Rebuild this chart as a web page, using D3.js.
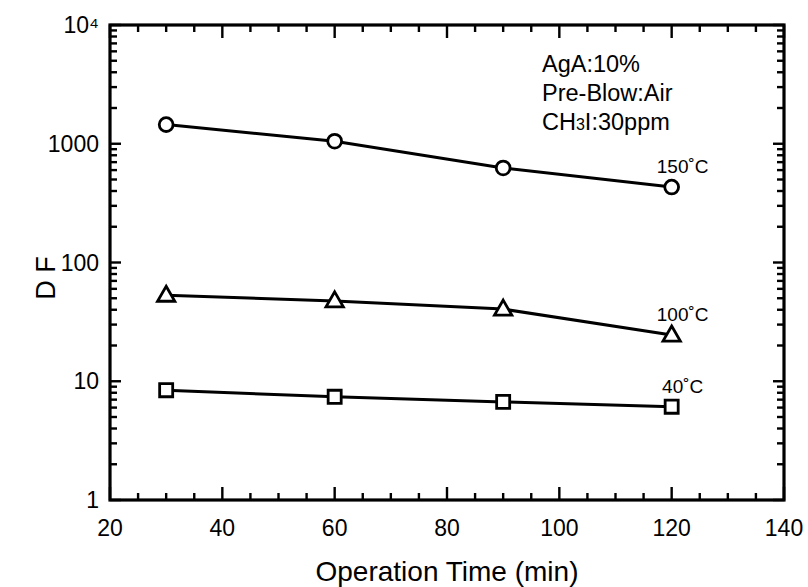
<!DOCTYPE html>
<html>
<head>
<meta charset="utf-8">
<script src="https://cdn.jsdelivr.net/npm/d3@7"></script>
<style>
  body { margin: 0; background: #fff; }
  text { font-family: "Liberation Sans", Arial, sans-serif; fill: #000; }
</style>
</head>
<body>
<div id="chart"></div>
<script>
// data
const times = [30, 60, 90, 120]
const df150 = [1450, 1050, 625, 432]
const df100 = [53, 47.5, 40.5, 24.5]
const df40 = [8.4, 7.4, 6.7, 6.1]
const seriesNames = ["150˚C", "100˚C", "40˚C"]
const seriesShapes = ["circle", "triangle", "square"]
const xTicks = [20, 40, 60, 80, 100, 120, 140]
const xMinorTicks = [25, 30, 35, 45, 50, 55, 65, 70, 75, 85, 90, 95, 105, 110, 115, 125, 130, 135]
const yTicks = [1, 10, 100, 1000, 10000]
const yTickLabels = ["1", "10", "100", "1000", "10⁴"]
const notes = ["AgA:10%", "Pre-Blow:Air", "CH3I:30ppm"]

const dims = { width: 808, height: 587 }
const pad = { top: 25, right: 24, bottom: 87, left: 110 }

const plotBottom = dims.height - pad.bottom
const plotRight = dims.width - pad.right

const series = [df150, df100, df40].map((vals, i) => ({
  name: seriesNames[i],
  shape: seriesShapes[i],
  points: times.map((t, j) => ({ t: t, v: vals[j] }))
}))

const x = d3.scaleLinear()
  .domain([20, 140])
  .range([pad.left, plotRight])

const y = d3.scaleLog()
  .domain([1, 10000])
  .range([plotBottom, pad.top])

// log minor ticks 2..9 in each decade
const yMinorTicks = y.ticks().filter(v => yTicks.indexOf(v) < 0)

const svg = d3.select('#chart')
  .append('svg')
    .attr('width', dims.width)
    .attr('height', dims.height)

// inward ticks as thin filled bars, all four sides
const xTickSet = xTicks.map(v => ({ v: v, len: 13 })).concat(xMinorTicks.map(v => ({ v: v, len: 7 })))
const yTickSet = yTicks.map(v => ({ v: v, len: 11 })).concat(yMinorTicks.map(v => ({ v: v, len: 7 })))
const tw = 2.4

const ticks = svg.append('g').attr('class', 'ticks')

ticks.selectAll('rect.xb').data(xTickSet).join('rect').attr('class', 'xb')
  .attr('x', d => x(d.v) - tw / 2).attr('y', d => plotBottom - d.len)
  .attr('width', tw).attr('height', d => d.len).attr('fill', '#000')
ticks.selectAll('rect.xt').data(xTickSet).join('rect').attr('class', 'xt')
  .attr('x', d => x(d.v) - tw / 2).attr('y', pad.top)
  .attr('width', tw).attr('height', d => d.len).attr('fill', '#000')
ticks.selectAll('rect.yl').data(yTickSet).join('rect').attr('class', 'yl')
  .attr('x', pad.left).attr('y', d => y(d.v) - tw / 2)
  .attr('width', d => d.len).attr('height', tw).attr('fill', '#000')
ticks.selectAll('rect.yr').data(yTickSet).join('rect').attr('class', 'yr')
  .attr('x', d => plotRight - d.len).attr('y', d => y(d.v) - tw / 2)
  .attr('width', d => d.len).attr('height', tw).attr('fill', '#000')

// frame
svg.append('rect')
  .attr('x', pad.left).attr('y', pad.top)
  .attr('width', plotRight - pad.left).attr('height', plotBottom - pad.top)
  .attr('fill', 'none').attr('stroke', '#000').attr('stroke-width', 3.2)

// tick labels
svg.append('g')
  .selectAll('text')
  .data(xTicks)
  .join('text')
    .attr('x', d => x(d))
    .attr('y', plotBottom + 36)
    .attr('text-anchor', 'middle')
    .attr('font-size', 23)
    .text(d => d)

svg.append('g')
  .selectAll('text')
  .data(yTicks)
  .join('text')
    .attr('x', pad.left - 11)
    .attr('y', d => y(d) + 8)
    .attr('text-anchor', 'end')
    .attr('font-size', 23)
    .text((d, i) => yTickLabels[i])

// lines
const lineGen = d3.line().x(d => x(d.t)).y(d => y(d.v))

svg.append('g')
  .selectAll('path')
  .data(series)
  .join('path')
    .attr('d', d => lineGen(d.points))
    .attr('fill', 'none')
    .attr('stroke', '#000')
    .attr('stroke-width', 3)

// markers
const symbolType = { circle: d3.symbolCircle, triangle: d3.symbolTriangle, square: d3.symbolSquare }
const symbolSize = { circle: 150, triangle: 130, square: 170 }

series.forEach(s => {
  svg.append('g')
    .selectAll('path')
    .data(s.points)
    .join('path')
      .attr('transform', d => `translate(${x(d.t)},${y(d.v) + (s.shape === 'triangle' ? 1 : 0)})`)
      .attr('d', d3.symbol().type(symbolType[s.shape]).size(symbolSize[s.shape]))
      .attr('fill', '#fff')
      .attr('stroke', '#000')
      .attr('stroke-width', 2.8)

  const last = s.points[s.points.length - 1]
  svg.append('text')
    .attr('x', x(last.t) + 11)
    .attr('y', y(last.v) - 14)
    .attr('text-anchor', 'middle')
    .attr('font-size', 19)
    .text(s.name)
})

// notes
notes.forEach((n, i) => {
  const t = svg.append('text')
    .attr('x', 542)
    .attr('y', 72 + i * 29)
    .attr('font-size', 23.5)
  if (n.startsWith('CH3I')) {
    t.append('tspan').text('CH')
    t.append('tspan').attr('font-size', 16).text('3')
    t.append('tspan').text('I:30ppm')
  } else {
    t.text(n)
  }
})

// axis titles
svg.append('text')
  .attr('x', (pad.left + plotRight) / 2)
  .attr('y', 581)
  .attr('text-anchor', 'middle')
  .attr('font-size', 28)
  .text('Operation Time (min)')

svg.append('text')
  .attr('transform', `translate(55,278) rotate(-90)`)
  .attr('text-anchor', 'middle')
  .attr('font-size', 27)
  .text('D F')
</script>
</body>
</html>
